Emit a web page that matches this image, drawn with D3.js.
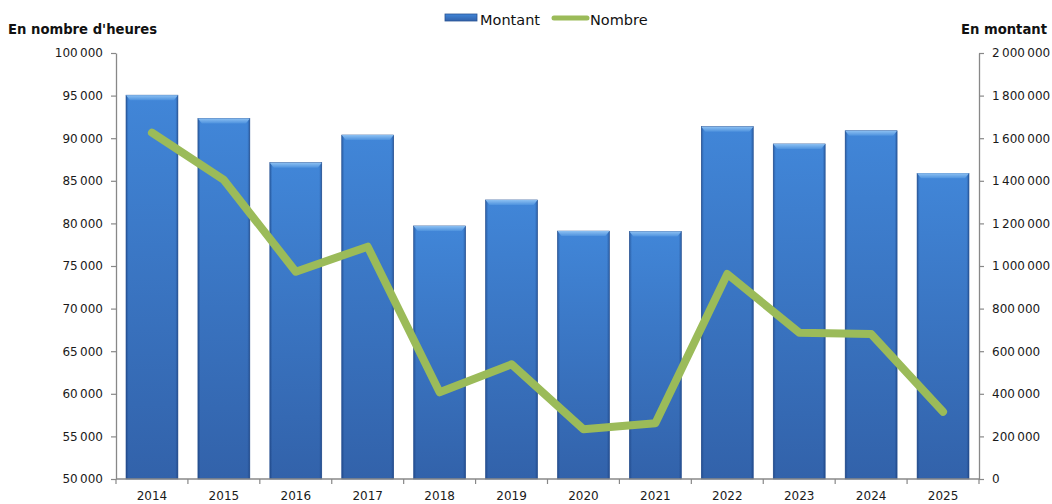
<!DOCTYPE html>
<html>
<head>
<meta charset="utf-8">
<script src="https://cdn.jsdelivr.net/npm/d3@7"></script>
<style>
  html, body { margin: 0; padding: 0; background: #fff; }
  svg { display: block; font-family: "DejaVu Sans", Verdana, sans-serif; }
</style>
</head>
<body>
<svg id="chart" width="1052" height="504"></svg>
<script>
// ---- data ----
const years = ["2014","2015","2016","2017","2018","2019","2020","2021","2022","2023","2024","2025"];
const montant = [1802000, 1693000, 1485000, 1615000, 1188000, 1310000, 1164000, 1162000, 1654000, 1573000, 1635000, 1435000];
const nombre  = [90650, 85100, 74330, 77270, 60180, 63460, 55830, 56540, 74060, 67180, 67020, 57900];
const leftTicks  = [50000, 55000, 60000, 65000, 70000, 75000, 80000, 85000, 90000, 95000, 100000];
const rightTicks = [0, 200000, 400000, 600000, 800000, 1000000, 1200000, 1400000, 1600000, 1800000, 2000000];
const leftTitle = "En nombre d'heures";
const rightTitle = "En montant";
const seriesNames = ["Montant", "Nombre"];

// ---- layout ----
const svg = d3.select("#chart");
const plotL = 116, plotR = 979, plotT = 53, plotB = 479;

const x = d3.scaleBand().domain(years).range([plotL, plotR]).paddingInner(0.278).paddingOuter(0.139);
const yL = d3.scaleLinear().domain([50000, 100000]).range([plotB, plotT]);
const yR = d3.scaleLinear().domain([0, 2000000]).range([plotB, plotT]);

const fmt = v => d3.format(",")(v).replace(/,/g, "\u2009");

// ---- defs ----
const defs = svg.append("defs");
const g1 = defs.append("linearGradient").attr("id", "barGrad").attr("x1", 0).attr("y1", 0).attr("x2", 0).attr("y2", 1);
g1.append("stop").attr("offset", "0%").attr("stop-color", "#4186d8");
g1.append("stop").attr("offset", "100%").attr("stop-color", "#3262aa");
const g2 = defs.append("linearGradient").attr("id", "barSide").attr("x1", 0).attr("y1", 0).attr("x2", 1).attr("y2", 0);
g2.append("stop").attr("offset", "0%").attr("stop-color", "#10306a").attr("stop-opacity", 0.45);
g2.append("stop").attr("offset", "5%").attr("stop-color", "#10306a").attr("stop-opacity", 0);
g2.append("stop").attr("offset", "95%").attr("stop-color", "#10306a").attr("stop-opacity", 0);
g2.append("stop").attr("offset", "100%").attr("stop-color", "#10306a").attr("stop-opacity", 0.45);
const g3 = defs.append("linearGradient").attr("id", "bevel").attr("x1", 0).attr("y1", 0).attr("x2", 0).attr("y2", 1);
g3.append("stop").attr("offset", "0%").attr("stop-color", "#8cc0f2");
g3.append("stop").attr("offset", "100%").attr("stop-color", "#4e92de");

// ---- bars (Montant, right axis) ----
const bars = svg.append("g");
const bw = x.bandwidth();
years.forEach((yr, i) => {
  const x0 = x(yr), top = yR(montant[i]), h = yR(0) - top;
  bars.append("rect").attr("x", x0).attr("y", top).attr("width", bw).attr("height", h)
    .attr("fill", "url(#barGrad)").attr("stroke", "#2a5493").attr("stroke-width", 0.6);
  bars.append("rect").attr("x", x0).attr("y", top).attr("width", bw).attr("height", h)
    .attr("fill", "url(#barSide)");
  bars.append("polygon")
    .attr("points", [[x0, top], [x0 + bw, top], [x0 + bw - 4, top + 5], [x0 + 4, top + 5]].map(p => p.join(",")).join(" "))
    .attr("fill", "url(#bevel)");
});

// ---- axes ----
const axisColor = "#888";
const gl = svg.append("g").attr("transform", `translate(${plotL},0)`)
  .call(d3.axisLeft(yL).tickValues(leftTicks).tickFormat(fmt).tickSize(5).tickPadding(8).tickSizeOuter(0));
const gr = svg.append("g").attr("transform", `translate(${plotR},0)`)
  .call(d3.axisRight(yR).tickValues(rightTicks).tickFormat(fmt).tickSize(5).tickPadding(8).tickSizeOuter(0));
const gx = svg.append("g").attr("transform", `translate(0,${plotB})`)
  .call(d3.axisBottom(x).tickSize(0).tickPadding(12));
[gl, gr, gx].forEach(g => {
  g.select(".domain").attr("stroke", axisColor).attr("stroke-width", 1.3);
  g.selectAll(".tick line").attr("stroke", axisColor).attr("stroke-width", 1.2);
  g.selectAll(".tick text").attr("fill", "#1a1a1a").attr("font-size", "12px").attr("font-family", "DejaVu Sans, sans-serif");
});
gx.select(".domain").attr("d", `M${plotL},0H${plotR}`);
// category separators on x axis
const step = x.step(), halfGap = (step - bw) / 2;
gx.selectAll(".sep").data(d3.range(years.length + 1)).enter().append("line")
  .attr("x1", i => i < years.length ? x(years[i]) - halfGap : x(years[years.length - 1]) + bw + halfGap)
  .attr("x2", i => i < years.length ? x(years[i]) - halfGap : x(years[years.length - 1]) + bw + halfGap)
  .attr("y1", 0).attr("y2", 5).attr("stroke", axisColor).attr("stroke-width", 1.2);

// ---- line (Nombre, left axis) ----
const line = d3.line().x((d, i) => x(years[i]) + bw / 2).y(d => yL(d));
svg.append("path").datum(nombre).attr("d", line)
  .attr("fill", "none").attr("stroke", "#9bbb59").attr("stroke-width", 8)
  .attr("stroke-linejoin", "round").attr("stroke-linecap", "round");

// ---- titles ----
svg.append("text").attr("x", 8).attr("y", 34).text(leftTitle)
  .attr("font-size", "13.2px").attr("font-weight", "bold").attr("fill", "#111");
svg.append("text").attr("x", 1047).attr("y", 34).attr("text-anchor", "end").text(rightTitle)
  .attr("font-size", "13.2px").attr("font-weight", "bold").attr("fill", "#111");

// ---- legend ----
const lg = svg.append("g");
lg.append("rect").attr("x", 445).attr("y", 14).attr("width", 32).attr("height", 7)
  .attr("fill", "url(#barGrad)").attr("stroke", "#2a5493").attr("stroke-width", 0.8);
lg.append("text").attr("x", 480).attr("y", 25).text(seriesNames[0]).attr("font-size", "14.5px").attr("fill", "#111");
lg.append("line").attr("x1", 554).attr("x2", 587).attr("y1", 18).attr("y2", 18)
  .attr("stroke", "#9bbb59").attr("stroke-width", 5).attr("stroke-linecap", "round");
lg.append("text").attr("x", 590).attr("y", 25).text(seriesNames[1]).attr("font-size", "14.5px").attr("fill", "#111");
</script>
</body>
</html>
